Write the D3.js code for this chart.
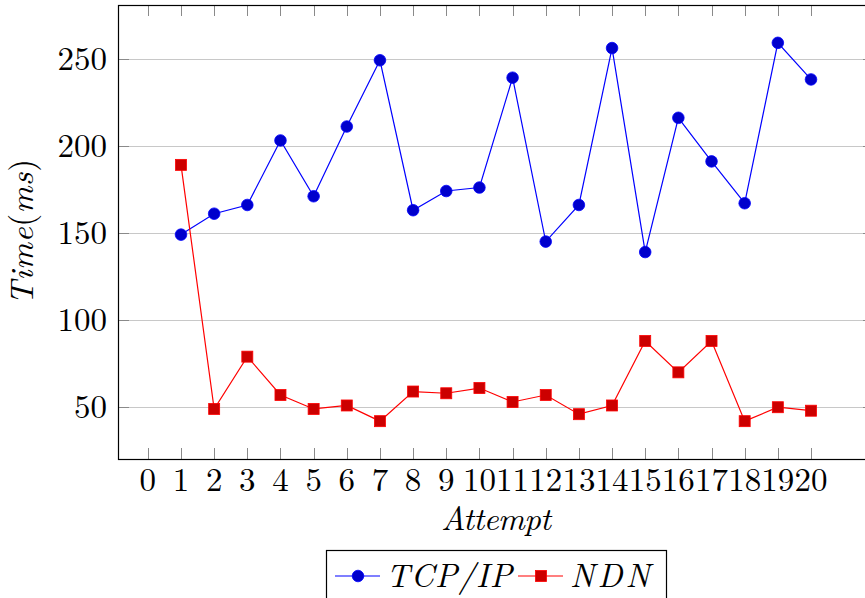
<!DOCTYPE html>
<html>
<head>
<meta charset="utf-8">
<script src="https://cdn.jsdelivr.net/npm/d3@7"></script>
<style>
  html, body { margin: 0; padding: 0; background: #fff; }
  svg { display: block; }
</style>
</head>
<body>
<svg id="chart" width="865" height="598"></svg>
<script>
const attempts = d3.range(1, 21);
const tcpValues = [149, 161, 166, 203, 171, 211, 249, 163, 174, 176, 239, 145, 166, 256, 139, 216, 191, 167, 259, 238];
const ndnValues = [189, 49, 79, 57, 49, 51, 42, 59, 58, 61, 53, 57, 46, 51, 88, 70, 88, 42, 50, 48];
const xTicks = d3.range(0, 21);
const yTicks = [50, 100, 150, 200, 250];
const seriesNames = ["TCP/IP", "NDN"];

(function () {
const FONT = "'Latin Modern Roman', 'CMU Serif', 'Times New Roman', 'Liberation Serif', Tinos, 'Nimbus Roman', 'Noto Serif', 'DejaVu Serif', FreeSerif, serif";
const svg = d3.select("#chart");
const pL = 118, pR = 874, pT = 5, pB = 459;

const x = d3.scaleLinear().domain([-0.9, 21.9]).range([pL, pR]);
const y = d3.scaleLinear().domain([20.3, 280.7]).range([pB, pT]);

// grid
svg.append("g").selectAll("line").data(yTicks).join("line")
  .attr("x1", pL).attr("x2", pR)
  .attr("y1", d => Math.round(y(d)) + 0.5).attr("y2", d => Math.round(y(d)) + 0.5)
  .attr("stroke", "#c8c8c8").attr("stroke-width", 1);

// ticks
const tickColor = "#8a8a8a";
const tg = svg.append("g").attr("stroke", tickColor).attr("stroke-width", 1);
xTicks.forEach(t => {
  const px = Math.round(x(t)) + 0.5;
  tg.append("line").attr("x1", px).attr("x2", px).attr("y1", pB).attr("y2", pB - 11);
  tg.append("line").attr("x1", px).attr("x2", px).attr("y1", pT).attr("y2", pT + 11);
});
yTicks.forEach(t => {
  const py = Math.round(y(t)) + 0.5;
  tg.append("line").attr("x1", pL).attr("x2", pL + 11).attr("y1", py).attr("y2", py);
  tg.append("line").attr("x1", pR).attr("x2", pR - 11).attr("y1", py).attr("y2", py);
});

// frame
svg.append("rect").attr("x", pL + 0.5).attr("y", pT + 0.5)
  .attr("width", pR - pL).attr("height", pB - pT)
  .attr("fill", "none").attr("stroke", "#000").attr("stroke-width", 1.2);

// tick labels
svg.append("g").selectAll("text").data(xTicks).join("text")
  .attr("x", d => x(d)).attr("y", 491)
  .attr("text-anchor", "middle").attr("font-size", 33).attr("font-family", FONT)
  .text(d => d);
svg.append("g").selectAll("text").data(yTicks).join("text")
  .attr("x", 107).attr("y", d => y(d) + 11)
  .attr("text-anchor", "end").attr("font-size", 33).attr("font-family", FONT)
  .text(d => d);

// axis labels
svg.append("text").attr("x", (pL + pR) / 2).attr("y", 530)
  .attr("text-anchor", "middle").attr("font-size", 33).attr("font-style", "italic").attr("font-family", FONT)
  .attr("textLength", 110).attr("lengthAdjust", "spacing")
  .text("Attempt");

const yl = svg.append("text").attr("transform", "translate(33,232) rotate(-90)")
  .attr("text-anchor", "middle").attr("font-size", 33).attr("font-family", FONT)
  .attr("textLength", 146).attr("lengthAdjust", "spacing");
yl.append("tspan").attr("font-style", "italic").text("Time");
yl.append("tspan").text("(");
yl.append("tspan").attr("font-style", "italic").text("ms");
yl.append("tspan").text(")");

// lines
const line = d3.line().x(d => x(d[0])).y(d => y(d[1]));
const tcpData = attempts.map((a, i) => [a, tcpValues[i]]);
const ndnData = attempts.map((a, i) => [a, ndnValues[i]]);

svg.append("path").datum(tcpData).attr("d", line)
  .attr("fill", "none").attr("stroke", "#0000ff").attr("stroke-width", 1.2);
svg.append("path").datum(ndnData).attr("d", line)
  .attr("fill", "none").attr("stroke", "#ff0000").attr("stroke-width", 1.2);

svg.append("g").selectAll("circle").data(tcpData).join("circle")
  .attr("cx", d => x(d[0])).attr("cy", d => y(d[1])).attr("r", 5.8)
  .attr("fill", "#0000cc").attr("stroke", "#0000ff").attr("stroke-width", 0.8);
const sq = 11;
svg.append("g").selectAll("rect").data(ndnData).join("rect")
  .attr("x", d => x(d[0]) - sq / 2).attr("y", d => y(d[1]) - sq / 2)
  .attr("width", sq).attr("height", sq)
  .attr("fill", "#cc0000").attr("stroke", "#ff0000").attr("stroke-width", 0.8);

// legend
const lg = svg.append("g");
lg.append("rect").attr("x", 326.5).attr("y", 550.5).attr("width", 340).attr("height", 60)
  .attr("fill", "#fff").attr("stroke", "#000").attr("stroke-width", 1.2);
const ly = 576;
lg.append("line").attr("x1", 335).attr("x2", 380).attr("y1", ly).attr("y2", ly)
  .attr("stroke", "#0000ff").attr("stroke-width", 1.2);
lg.append("circle").attr("cx", 358).attr("cy", ly).attr("r", 5.8)
  .attr("fill", "#0000cc").attr("stroke", "#0000ff").attr("stroke-width", 0.8);
lg.append("text").attr("x", 386).attr("y", 587).attr("font-size", 33).attr("font-style", "italic").attr("font-family", FONT)
  .attr("textLength", 126).attr("lengthAdjust", "spacing").text(seriesNames[0]);
lg.append("line").attr("x1", 518).attr("x2", 563).attr("y1", ly).attr("y2", ly)
  .attr("stroke", "#ff0000").attr("stroke-width", 1.2);
lg.append("rect").attr("x", 541 - sq / 2).attr("y", ly - sq / 2).attr("width", sq).attr("height", sq)
  .attr("fill", "#cc0000").attr("stroke", "#ff0000").attr("stroke-width", 0.8);
lg.append("text").attr("x", 570).attr("y", 587).attr("font-size", 33).attr("font-style", "italic").attr("font-family", FONT)
  .attr("textLength", 80).attr("lengthAdjust", "spacing").text(seriesNames[1]);
})();
</script>
</body>
</html>
